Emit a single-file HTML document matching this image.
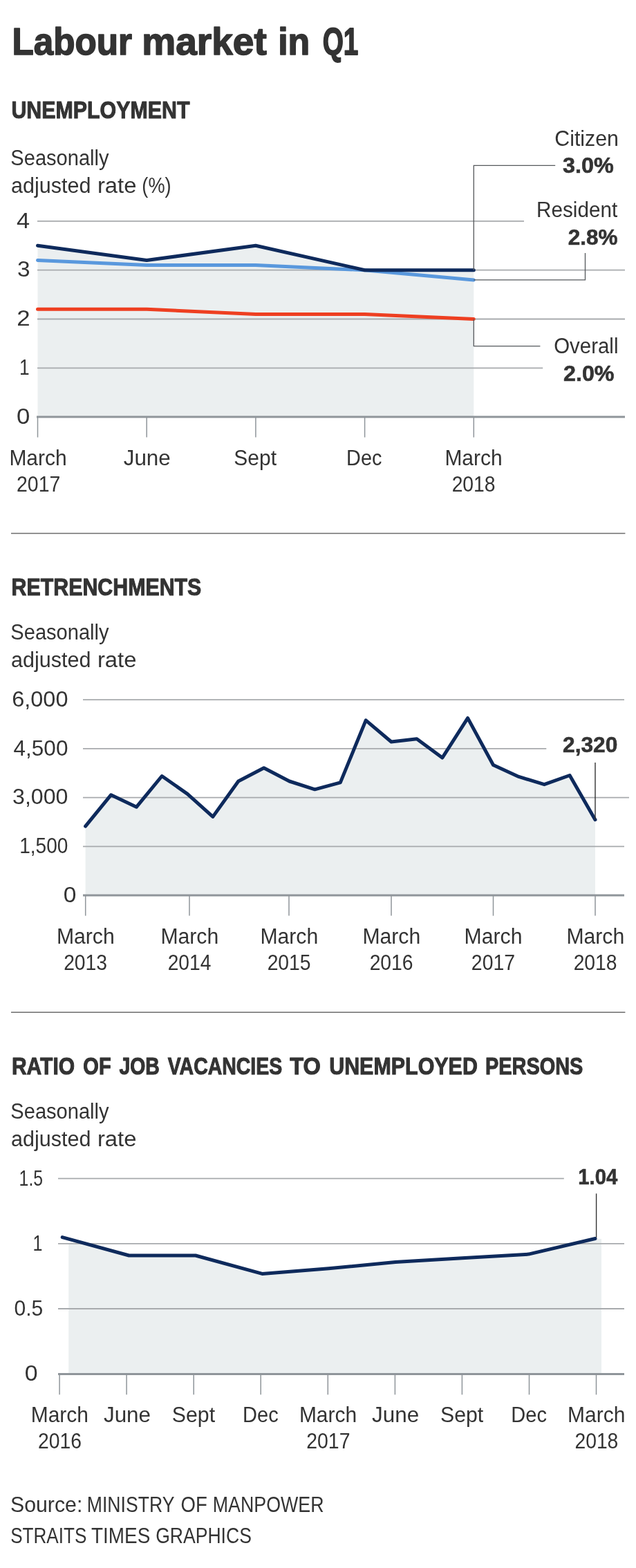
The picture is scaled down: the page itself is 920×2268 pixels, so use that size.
<!DOCTYPE html>
<html lang="en"><head><meta charset="utf-8"><title>Labour market in Q1</title>
<style>html,body{margin:0;padding:0;background:#fff}body{width:920px;height:2268px;overflow:hidden}svg{display:block}text{font-family:"Liberation Sans",sans-serif;fill:#333333}</style></head><body>
<svg width="920" height="2268" viewBox="0 0 920 2268">
<rect width="920" height="2268" fill="#fff"/>
<line x1="16.0" y1="771.5" x2="904.4" y2="771.5" stroke="#6c6c6c" stroke-width="1.4"/>
<line x1="16.0" y1="1464.2" x2="904.4" y2="1464.2" stroke="#6c6c6c" stroke-width="1.4"/>
<polygon points="54.5,355.3 212.2,376.5 369.9,355.3 527.6,390.7 685.3,390.7 685.3,603.1 54.5,603.1" fill="#ebeff0"/>
<line x1="54.0" y1="319.9" x2="758.0" y2="319.9" stroke="#a7aaad" stroke-width="1.8"/>
<line x1="54.0" y1="390.7" x2="904.0" y2="390.7" stroke="#a7aaad" stroke-width="1.8"/>
<line x1="54.0" y1="461.5" x2="904.0" y2="461.5" stroke="#a7aaad" stroke-width="1.8"/>
<line x1="54.0" y1="532.3" x2="785.2" y2="532.3" stroke="#a7aaad" stroke-width="1.8"/>
<line x1="53.0" y1="603.1" x2="904.0" y2="603.1" stroke="#8f959a" stroke-width="3"/>
<line x1="54.5" y1="603.1" x2="54.5" y2="632.6" stroke="#8f959a" stroke-width="1.5"/>
<line x1="212.2" y1="603.1" x2="212.2" y2="632.6" stroke="#8f959a" stroke-width="1.5"/>
<line x1="369.9" y1="603.1" x2="369.9" y2="632.6" stroke="#8f959a" stroke-width="1.5"/>
<line x1="527.6" y1="603.1" x2="527.6" y2="632.6" stroke="#8f959a" stroke-width="1.5"/>
<line x1="685.3" y1="603.1" x2="685.3" y2="632.6" stroke="#8f959a" stroke-width="1.5"/>
<polyline points="54.5,447.3 212.2,447.3 369.9,454.4 527.6,454.4 685.3,461.5" fill="none" stroke="#ee3f21" stroke-width="5" stroke-linecap="round" stroke-linejoin="round"/>
<polyline points="54.5,376.5 212.2,383.6 369.9,383.6 527.6,390.7 685.3,404.9" fill="none" stroke="#5998dd" stroke-width="5" stroke-linecap="round" stroke-linejoin="round"/>
<polyline points="54.5,355.3 212.2,376.5 369.9,355.3 527.6,390.7 685.3,390.7" fill="none" stroke="#0e2a5c" stroke-width="5" stroke-linecap="round" stroke-linejoin="round"/>
<polyline points="685.3,390.7 685.3,239.4 803.2,239.4" fill="none" stroke="#55595c" stroke-width="1.3"/>
<polyline points="685.3,404.9 846.5,404.9 846.5,366" fill="none" stroke="#55595c" stroke-width="1.3"/>
<polyline points="685.3,461.5 685.3,500.7 781.4,500.7" fill="none" stroke="#55595c" stroke-width="1.3"/>
<polygon points="123.6,1195.1 160.5,1149.8 197.3,1167.3 234.2,1122.5 271.1,1148.4 307.9,1181.4 344.8,1130.0 381.7,1110.7 418.6,1130.0 455.4,1141.8 492.3,1131.9 529.2,1041.9 566.0,1073.0 602.9,1068.8 639.8,1096.1 676.6,1038.6 713.5,1106.5 750.4,1123.4 787.3,1134.7 824.1,1121.5 861.0,1185.7 861.0,1295.0 123.6,1295.0" fill="#ebeff0"/>
<line x1="120.0" y1="1012.2" x2="903.0" y2="1012.2" stroke="#a7aaad" stroke-width="1.8"/>
<line x1="120.0" y1="1082.9" x2="790.3" y2="1082.9" stroke="#a7aaad" stroke-width="1.8"/>
<line x1="120.0" y1="1153.6" x2="910.0" y2="1153.6" stroke="#a7aaad" stroke-width="1.8"/>
<line x1="120.0" y1="1224.3" x2="903.0" y2="1224.3" stroke="#a7aaad" stroke-width="1.8"/>
<line x1="120.0" y1="1295.0" x2="903.0" y2="1295.0" stroke="#8f959a" stroke-width="3"/>
<line x1="123.7" y1="1295.0" x2="123.7" y2="1324.6" stroke="#8f959a" stroke-width="1.5"/>
<line x1="274.0" y1="1295.0" x2="274.0" y2="1324.6" stroke="#8f959a" stroke-width="1.5"/>
<line x1="418.0" y1="1295.0" x2="418.0" y2="1324.6" stroke="#8f959a" stroke-width="1.5"/>
<line x1="566.0" y1="1295.0" x2="566.0" y2="1324.6" stroke="#8f959a" stroke-width="1.5"/>
<line x1="713.5" y1="1295.0" x2="713.5" y2="1324.6" stroke="#8f959a" stroke-width="1.5"/>
<line x1="861.0" y1="1295.0" x2="861.0" y2="1324.6" stroke="#8f959a" stroke-width="1.5"/>
<polyline points="123.6,1195.1 160.5,1149.8 197.3,1167.3 234.2,1122.5 271.1,1148.4 307.9,1181.4 344.8,1130.0 381.7,1110.7 418.6,1130.0 455.4,1141.8 492.3,1131.9 529.2,1041.9 566.0,1073.0 602.9,1068.8 639.8,1096.1 676.6,1038.6 713.5,1106.5 750.4,1123.4 787.3,1134.7 824.1,1121.5 861.0,1185.7" fill="none" stroke="#0e2a5c" stroke-width="5" stroke-linecap="round" stroke-linejoin="round"/>
<line x1="861.0" y1="1103.0" x2="861.0" y2="1185.0" stroke="#333" stroke-width="1.4"/>
<polygon points="99.2,1799.5 113.0,1796.0 186.6,1816.0 282.9,1816.0 379.2,1842.4 475.6,1834.8 572.0,1825.4 668.3,1819.7 764.6,1814.1 861.0,1791.5 870.0,1792.0 870.0,1987.5 99.2,1987.5" fill="#ebeff0"/>
<line x1="84.0" y1="1704.6" x2="815.8" y2="1704.6" stroke="#a7aaad" stroke-width="1.8"/>
<line x1="84.0" y1="1798.8" x2="903.0" y2="1798.8" stroke="#a7aaad" stroke-width="1.8"/>
<line x1="84.0" y1="1893.0" x2="903.0" y2="1893.0" stroke="#a7aaad" stroke-width="1.8"/>
<line x1="84.0" y1="1987.5" x2="903.0" y2="1987.5" stroke="#8f959a" stroke-width="3"/>
<line x1="86.1" y1="1987.5" x2="86.1" y2="2017.3" stroke="#8f959a" stroke-width="1.5"/>
<line x1="183.1" y1="1987.5" x2="183.1" y2="2017.3" stroke="#8f959a" stroke-width="1.5"/>
<line x1="280.2" y1="1987.5" x2="280.2" y2="2017.3" stroke="#8f959a" stroke-width="1.5"/>
<line x1="377.2" y1="1987.5" x2="377.2" y2="2017.3" stroke="#8f959a" stroke-width="1.5"/>
<line x1="474.3" y1="1987.5" x2="474.3" y2="2017.3" stroke="#8f959a" stroke-width="1.5"/>
<line x1="571.4" y1="1987.5" x2="571.4" y2="2017.3" stroke="#8f959a" stroke-width="1.5"/>
<line x1="668.4" y1="1987.5" x2="668.4" y2="2017.3" stroke="#8f959a" stroke-width="1.5"/>
<line x1="765.5" y1="1987.5" x2="765.5" y2="2017.3" stroke="#8f959a" stroke-width="1.5"/>
<line x1="862.5" y1="1987.5" x2="862.5" y2="2017.3" stroke="#8f959a" stroke-width="1.5"/>
<polyline points="90.2,1789.6 186.6,1816.0 282.9,1816.0 379.2,1842.4 475.6,1834.8 572.0,1825.4 668.3,1819.7 764.6,1814.1 861.0,1791.5" fill="none" stroke="#0e2a5c" stroke-width="5" stroke-linecap="round" stroke-linejoin="round"/>
<line x1="862.6" y1="1726.4" x2="862.6" y2="1790.0" stroke="#333" stroke-width="1.4"/>
<text transform="translate(17.42 78.90) scale(0.9102 1)" font-size="56.23" font-weight="700" stroke="#333333" stroke-width="1.6" stroke-linejoin="round" style="vector-effect:non-scaling-stroke">Labour</text>
<text transform="translate(205.25 78.90) scale(0.9786 1)" font-size="56.23" font-weight="700" stroke="#333333" stroke-width="1.6" stroke-linejoin="round" style="vector-effect:non-scaling-stroke">market</text>
<text transform="translate(402.17 78.90) scale(0.9219 1)" font-size="56.23" font-weight="700" stroke="#333333" stroke-width="1.6" stroke-linejoin="round" style="vector-effect:non-scaling-stroke">in</text>
<text transform="translate(466.75 78.90) scale(0.6889 1)" font-size="56.23" font-weight="700" stroke="#333333" stroke-width="1.6" stroke-linejoin="round" style="vector-effect:non-scaling-stroke">Q1</text>
<text transform="translate(16.38 171.10) scale(0.8556 1)" font-size="35.51" font-weight="700" stroke="#333333" stroke-width="1.0" stroke-linejoin="round" style="vector-effect:non-scaling-stroke">UNEMPLOYMENT</text>
<text transform="translate(15.35 238.60) scale(0.9124 1)" font-size="31.88" font-weight="400">Seasonally</text>
<text transform="translate(15.98 278.50) scale(0.9580 1)" font-size="31.88" font-weight="400">adjusted</text>
<text transform="translate(140.90 278.50) scale(1.0305 1)" font-size="31.88" font-weight="400">rate</text>
<text transform="translate(205.37 278.50) scale(0.8532 1)" font-size="31.88" font-weight="400">(%)</text>
<text transform="translate(24.11 329.50) scale(1.0762 1)" font-size="31.88" font-weight="400">4</text>
<text transform="translate(24.96 400.40) scale(1.0477 1)" font-size="31.88" font-weight="400">3</text>
<text transform="translate(24.26 471.00) scale(1.0909 1)" font-size="31.88" font-weight="400">2</text>
<text transform="translate(27.90 541.80) scale(0.8242 1)" font-size="31.88" font-weight="400">1</text>
<text transform="translate(23.91 612.60) scale(1.0912 1)" font-size="31.88" font-weight="400">0</text>
<text transform="translate(13.40 672.60) scale(0.9397 1)" font-size="31.88" font-weight="400">March</text>
<text transform="translate(24.03 710.70) scale(0.8921 1)" font-size="31.88" font-weight="400">2017</text>
<text transform="translate(178.67 672.60) scale(0.9857 1)" font-size="31.88" font-weight="400">June</text>
<text transform="translate(338.30 672.60) scale(0.9409 1)" font-size="31.88" font-weight="400">Sept</text>
<text transform="translate(501.09 672.60) scale(0.9052 1)" font-size="31.88" font-weight="400">Dec</text>
<text transform="translate(643.40 672.60) scale(0.9397 1)" font-size="31.88" font-weight="400">March</text>
<text transform="translate(653.63 710.70) scale(0.8879 1)" font-size="31.88" font-weight="400">2018</text>
<text transform="translate(802.28 210.60) scale(0.9516 1)" font-size="31.88" font-weight="400">Citizen</text>
<text transform="translate(814.05 250.30) scale(1.0391 1)" font-size="31.16" font-weight="700" stroke="#333333" stroke-width="0.6" stroke-linejoin="round" style="vector-effect:non-scaling-stroke">3.0%</text>
<text transform="translate(776.02 313.70) scale(0.9312 1)" font-size="31.88" font-weight="400">Resident</text>
<text transform="translate(821.86 353.50) scale(1.0105 1)" font-size="31.16" font-weight="700" stroke="#333333" stroke-width="0.6" stroke-linejoin="round" style="vector-effect:non-scaling-stroke">2.8%</text>
<text transform="translate(801.23 511.40) scale(0.9234 1)" font-size="31.88" font-weight="400">Overall</text>
<text transform="translate(815.03 551.20) scale(1.0351 1)" font-size="31.16" font-weight="700" stroke="#333333" stroke-width="0.6" stroke-linejoin="round" style="vector-effect:non-scaling-stroke">2.0%</text>
<text transform="translate(16.57 861.00) scale(0.8550 1)" font-size="35.51" font-weight="700" stroke="#333333" stroke-width="1.0" stroke-linejoin="round" style="vector-effect:non-scaling-stroke">RETRENCHMENTS</text>
<text transform="translate(15.35 924.70) scale(0.9124 1)" font-size="31.88" font-weight="400">Seasonally</text>
<text transform="translate(15.98 964.60) scale(0.9580 1)" font-size="31.88" font-weight="400">adjusted</text>
<text transform="translate(140.90 964.60) scale(1.0305 1)" font-size="31.88" font-weight="400">rate</text>
<text transform="translate(17.28 1021.70) scale(1.0177 1)" font-size="31.88" font-weight="400">6,000</text>
<text transform="translate(19.57 1092.70) scale(0.9885 1)" font-size="31.88" font-weight="400">4,500</text>
<text transform="translate(18.01 1163.30) scale(1.0083 1)" font-size="31.88" font-weight="400">3,000</text>
<text transform="translate(28.26 1233.80) scale(0.8790 1)" font-size="31.88" font-weight="400">1,500</text>
<text transform="translate(91.66 1304.70) scale(1.0520 1)" font-size="31.88" font-weight="400">0</text>
<text transform="translate(81.88 1364.60) scale(0.9469 1)" font-size="31.88" font-weight="400">March</text>
<text transform="translate(92.13 1402.60) scale(0.8879 1)" font-size="31.88" font-weight="400">2013</text>
<text transform="translate(232.38 1364.60) scale(0.9469 1)" font-size="31.88" font-weight="400">March</text>
<text transform="translate(242.64 1402.60) scale(0.8838 1)" font-size="31.88" font-weight="400">2014</text>
<text transform="translate(376.38 1364.60) scale(0.9469 1)" font-size="31.88" font-weight="400">March</text>
<text transform="translate(386.63 1402.60) scale(0.8879 1)" font-size="31.88" font-weight="400">2015</text>
<text transform="translate(524.38 1364.60) scale(0.9469 1)" font-size="31.88" font-weight="400">March</text>
<text transform="translate(534.63 1402.60) scale(0.8879 1)" font-size="31.88" font-weight="400">2016</text>
<text transform="translate(671.58 1364.60) scale(0.9469 1)" font-size="31.88" font-weight="400">March</text>
<text transform="translate(681.83 1402.60) scale(0.8921 1)" font-size="31.88" font-weight="400">2017</text>
<text transform="translate(819.38 1364.60) scale(0.9469 1)" font-size="31.88" font-weight="400">March</text>
<text transform="translate(829.63 1402.60) scale(0.8879 1)" font-size="31.88" font-weight="400">2018</text>
<text transform="translate(814.05 1088.00) scale(1.0169 1)" font-size="31.16" font-weight="700" stroke="#333333" stroke-width="0.6" stroke-linejoin="round" style="vector-effect:non-scaling-stroke">2,320</text>
<text transform="translate(16.90 1554.00) scale(0.8459 1)" font-size="35.51" font-weight="700" stroke="#333333" stroke-width="1.0" stroke-linejoin="round" style="vector-effect:non-scaling-stroke">RATIO</text>
<text transform="translate(120.34 1554.00) scale(0.8169 1)" font-size="35.51" font-weight="700" stroke="#333333" stroke-width="1.0" stroke-linejoin="round" style="vector-effect:non-scaling-stroke">OF</text>
<text transform="translate(172.43 1554.00) scale(0.7996 1)" font-size="35.51" font-weight="700" stroke="#333333" stroke-width="1.0" stroke-linejoin="round" style="vector-effect:non-scaling-stroke">JOB</text>
<text transform="translate(242.72 1554.00) scale(0.8019 1)" font-size="35.51" font-weight="700" stroke="#333333" stroke-width="1.0" stroke-linejoin="round" style="vector-effect:non-scaling-stroke">VACANCIES</text>
<text transform="translate(419.17 1554.00) scale(0.9174 1)" font-size="35.51" font-weight="700" stroke="#333333" stroke-width="1.0" stroke-linejoin="round" style="vector-effect:non-scaling-stroke">TO</text>
<text transform="translate(476.17 1554.00) scale(0.8571 1)" font-size="35.51" font-weight="700" stroke="#333333" stroke-width="1.0" stroke-linejoin="round" style="vector-effect:non-scaling-stroke">UNEMPLOYED</text>
<text transform="translate(701.97 1554.00) scale(0.8148 1)" font-size="35.51" font-weight="700" stroke="#333333" stroke-width="1.0" stroke-linejoin="round" style="vector-effect:non-scaling-stroke">PERSONS</text>
<text transform="translate(15.35 1617.70) scale(0.9124 1)" font-size="31.88" font-weight="400">Seasonally</text>
<text transform="translate(15.98 1657.60) scale(0.9580 1)" font-size="31.88" font-weight="400">adjusted</text>
<text transform="translate(140.90 1657.60) scale(1.0305 1)" font-size="31.88" font-weight="400">rate</text>
<text transform="translate(27.62 1714.70) scale(0.7779 1)" font-size="31.88" font-weight="400">1.5</text>
<text transform="translate(47.49 1808.70) scale(0.7877 1)" font-size="31.88" font-weight="400">1</text>
<text transform="translate(20.50 1902.90) scale(0.9433 1)" font-size="31.88" font-weight="400">0.5</text>
<text transform="translate(35.64 1996.90) scale(1.0651 1)" font-size="31.88" font-weight="400">0</text>
<text transform="translate(44.70 2056.60) scale(0.9397 1)" font-size="31.88" font-weight="400">March</text>
<text transform="translate(55.03 2094.50) scale(0.8879 1)" font-size="31.88" font-weight="400">2016</text>
<text transform="translate(149.92 2056.60) scale(0.9857 1)" font-size="31.88" font-weight="400">June</text>
<text transform="translate(248.84 2056.60) scale(0.9487 1)" font-size="31.88" font-weight="400">Sept</text>
<text transform="translate(351.08 2056.60) scale(0.9109 1)" font-size="31.88" font-weight="400">Dec</text>
<text transform="translate(432.90 2056.60) scale(0.9397 1)" font-size="31.88" font-weight="400">March</text>
<text transform="translate(443.23 2094.50) scale(0.8921 1)" font-size="31.88" font-weight="400">2017</text>
<text transform="translate(538.12 2056.60) scale(0.9857 1)" font-size="31.88" font-weight="400">June</text>
<text transform="translate(637.04 2056.60) scale(0.9487 1)" font-size="31.88" font-weight="400">Sept</text>
<text transform="translate(739.28 2056.60) scale(0.9109 1)" font-size="31.88" font-weight="400">Dec</text>
<text transform="translate(821.10 2056.60) scale(0.9397 1)" font-size="31.88" font-weight="400">March</text>
<text transform="translate(831.43 2094.50) scale(0.8879 1)" font-size="31.88" font-weight="400">2018</text>
<text transform="translate(836.34 1712.70) scale(0.9389 1)" font-size="31.16" font-weight="700" stroke="#333333" stroke-width="0.6" stroke-linejoin="round" style="vector-effect:non-scaling-stroke">1.04</text>
<text transform="translate(14.99 2186.50) scale(0.9495 1)" font-size="31.88" font-weight="400">Source:</text>
<text transform="translate(125.77 2186.50) scale(0.8350 1)" font-size="31.88" font-weight="400">MINISTRY</text>
<text transform="translate(261.62 2186.50) scale(0.8637 1)" font-size="31.88" font-weight="400">OF</text>
<text transform="translate(307.76 2186.50) scale(0.8405 1)" font-size="31.88" font-weight="400">MANPOWER</text>
<text transform="translate(15.19 2231.70) scale(0.8186 1)" font-size="31.88" font-weight="400">STRAITS</text>
<text transform="translate(132.04 2231.70) scale(0.8759 1)" font-size="31.88" font-weight="400">TIMES</text>
<text transform="translate(225.17 2231.70) scale(0.8333 1)" font-size="31.88" font-weight="400">GRAPHICS</text>
</svg></body></html>
